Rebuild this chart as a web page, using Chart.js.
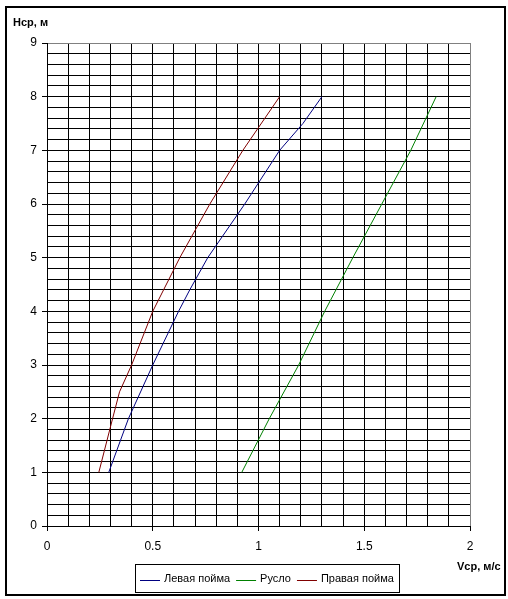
<!DOCTYPE html>
<html>
<head>
<meta charset="utf-8">
<script src="https://cdn.jsdelivr.net/npm/chart.js@4.4.1/dist/chart.umd.min.js"></script>
<style>
  html, body { margin: 0; padding: 0; background: #ffffff; }
  #wrap { position: relative; width: 508px; height: 599px; }
  canvas { display: block; }
</style>
</head>
<body>
<div id="wrap"><canvas id="c" width="508" height="599"></canvas></div>
<script>
// ---- data ----
const seriesNames = ['Левая пойма', 'Русло', 'Правая пойма'];

const leftHeights = [1, 2, 3, 4, 4.4, 5, 6, 7, 7.5, 8];
const leftVelocity = [0.292, 0.385, 0.50, 0.622, 0.675, 0.76, 0.935, 1.10, 1.21, 1.30];

const channelHeights = [1, 2, 3, 4, 5, 6, 7, 8];
const channelVelocity = [0.921, 1.051, 1.19, 1.313, 1.446, 1.583, 1.72, 1.84];

const rightHeights = [1, 2, 2.5, 3, 4, 5, 6, 7, 8];
const rightVelocity = [0.245, 0.31, 0.343, 0.40, 0.50, 0.628, 0.77, 0.926, 1.10];

const yTickLabels = ['0', '1', '2', '3', '4', '5', '6', '7', '8', '9'];
const xTickLabels = ['0', '0.5', '1', '1.5', '2'];

const yTitle = 'Нср, м';
const xTitle = 'Vср, м/с';

// ---- build ----
function pts(vs, hs) { return hs.map((h, i) => ({ x: vs[i], y: h })); }

const FONT = '"Liberation Sans", Arial, sans-serif';
const colors = ['#000080', '#008000', '#800000'];

const datasets = [
  { label: seriesNames[0], data: pts(leftVelocity, leftHeights) },
  { label: seriesNames[1], data: pts(channelVelocity, channelHeights) },
  { label: seriesNames[2], data: pts(rightVelocity, rightHeights) }
].map((d, i) => Object.assign(d, {
  showLine: true, borderColor: colors[i], backgroundColor: colors[i],
  borderWidth: 1, pointRadius: 0, pointHoverRadius: 0, tension: 0
}));

const decor = {
  id: 'decor',
  afterDraw(chart) {
    const ctx = chart.ctx;
    ctx.save();
    // outer frame
    ctx.strokeStyle = '#000';
    ctx.lineWidth = 2;
    ctx.strokeRect(6, 7, 499, 588);
    // axis titles
    ctx.fillStyle = '#000';
    ctx.font = 'bold 11px ' + FONT;
    ctx.textBaseline = 'middle';
    ctx.textAlign = 'left';
    ctx.fillText(yTitle, 13, 23);
    ctx.fillText(xTitle, 457, 567);
    // legend
    ctx.font = '11px ' + FONT;
    let x = 140;
    const yLine = 580.5;
    chart.data.datasets.forEach((ds) => {
      ctx.strokeStyle = ds.borderColor;
      ctx.lineWidth = 1;
      ctx.beginPath();
      ctx.moveTo(x, yLine);
      ctx.lineTo(x + 20, yLine);
      ctx.stroke();
      ctx.fillStyle = '#000';
      ctx.fillText(ds.label, x + 24, 579);
      x += 24 + ctx.measureText(ds.label).width + 6;
    });
    ctx.strokeStyle = '#000';
    ctx.lineWidth = 1;
    ctx.strokeRect(135.5, 564.5, 264, 28);
    ctx.restore();
  }
};

new Chart(document.getElementById('c'), {
  type: 'scatter',
  data: { datasets },
  options: {
    responsive: false,
    animation: false,
    devicePixelRatio: 1,
    layout: { padding: { top: 43, right: 38, bottom: 0, left: 0 } },
    plugins: { legend: { display: false }, tooltip: { enabled: false } },
    scales: {
      xg: {
        type: 'linear', position: 'bottom', min: 0, max: 2,
        ticks: { display: false, stepSize: 0.1 },
        grid: {
          drawTicks: false, lineWidth: 1,
          color: (c) => (Math.abs(c.tick.value - 2) < 1e-6 ? '#808080' : '#000000')
        },
        border: { display: false },
        afterFit: (s) => { s.height = 0; }
      },
      x: {
        type: 'linear', position: 'bottom', min: 0, max: 2,
        ticks: {
          stepSize: 0.5, padding: 8, color: '#000',
          font: { family: FONT, size: 12 },
          callback: (v) => xTickLabels[Math.round(v * 2)]
        },
        grid: { drawOnChartArea: false, drawTicks: true, tickLength: 5, color: '#000' },
        border: { display: true, color: '#000', width: 1 },
        afterFit: (s) => { s.height = 73; }
      },
      yg: {
        type: 'linear', position: 'left', min: 0, max: 9,
        ticks: { display: false, stepSize: 0.2 },
        grid: {
          drawTicks: false, lineWidth: 1,
          color: (c) => (Math.abs(c.tick.value - 9) < 1e-6 ? '#808080' : '#000000')
        },
        border: { display: false },
        afterFit: (s) => { s.width = 0; }
      },
      y: {
        type: 'linear', position: 'left', min: 0, max: 9,
        ticks: {
          stepSize: 1, padding: 5, color: '#000',
          font: { family: FONT, size: 12 },
          callback: (v) => yTickLabels[Math.round(v)]
        },
        grid: { drawOnChartArea: false, drawTicks: true, tickLength: 5, color: '#000' },
        border: { display: true, color: '#000', width: 1 },
        afterFit: (s) => { s.width = 47; }
      }
    }
  },
  plugins: [decor]
});
</script>
</body>
</html>
